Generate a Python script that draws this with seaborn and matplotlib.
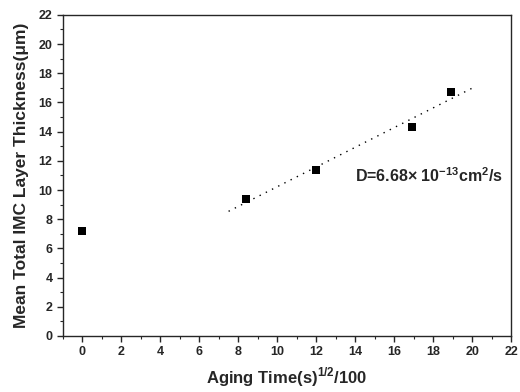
import numpy as np
import pandas as pd
import matplotlib
matplotlib.use("Agg")
import matplotlib.pyplot as plt
import seaborn as sns
from matplotlib.ticker import MultipleLocator

# data
aging_time = [0.0, 8.4, 12.0, 16.9, 18.9]
thickness = [7.2, 9.4, 11.35, 14.35, 16.75]
fit_range = [7.5, 20.0]

sns.set_style("ticks")
plt.rcParams["font.family"] = ["Liberation Sans", "DejaVu Sans"]
plt.rcParams["mathtext.fontset"] = "custom"
plt.rcParams["mathtext.rm"] = "Liberation Sans:bold"
plt.rcParams["mathtext.bf"] = "Liberation Sans:bold"

df = pd.DataFrame({"t": aging_time, "d": thickness})

# linear fit through the aged points (first point excluded)
slope, icpt = np.polyfit(aging_time[1:], thickness[1:], 1)
fit_df = pd.DataFrame({"t": fit_range, "d": [slope * x + icpt for x in fit_range]})

fig = plt.figure(figsize=(5.2, 3.92), dpi=100)
ax = fig.add_axes([0.121, 0.143, 0.862, 0.819])

sns.lineplot(data=fit_df, x="t", y="d", ax=ax, color="black",
             linestyle=(0, (1, 4)), linewidth=1.0)
sns.scatterplot(data=df, x="t", y="d", ax=ax, marker="s", color="black",
                s=36, edgecolor="black", linewidth=0)

ax.set_xlim(-1, 22)
ax.set_ylim(0, 22)
ax.xaxis.set_major_locator(MultipleLocator(2))
ax.xaxis.set_minor_locator(MultipleLocator(1))
ax.yaxis.set_major_locator(MultipleLocator(2))
ax.yaxis.set_minor_locator(MultipleLocator(1))
ax.tick_params(which="major", direction="out", length=4, width=1, labelsize=9)
ax.tick_params(which="minor", direction="out", length=2, width=0.8)
for lab in ax.get_xticklabels() + ax.get_yticklabels():
    lab.set_fontweight("bold")
for s in ax.spines.values():
    s.set_linewidth(1.0)
    s.set_visible(True)

ax.set_xlabel(r"Aging Time(s)$^{1/2}$/100", fontsize=12, fontweight="bold", labelpad=5)
ax.set_ylabel("Mean Total IMC Layer Thickness(μm)", fontsize=12.5, fontweight="bold", labelpad=7)

ax.text(14.0, 11.0, r"D=6.68$\times$ 10$^{-13}$cm$^2$/s", fontsize=11.5,
        fontweight="bold", ha="left", va="center")

fig.savefig("out.png", dpi=100)
